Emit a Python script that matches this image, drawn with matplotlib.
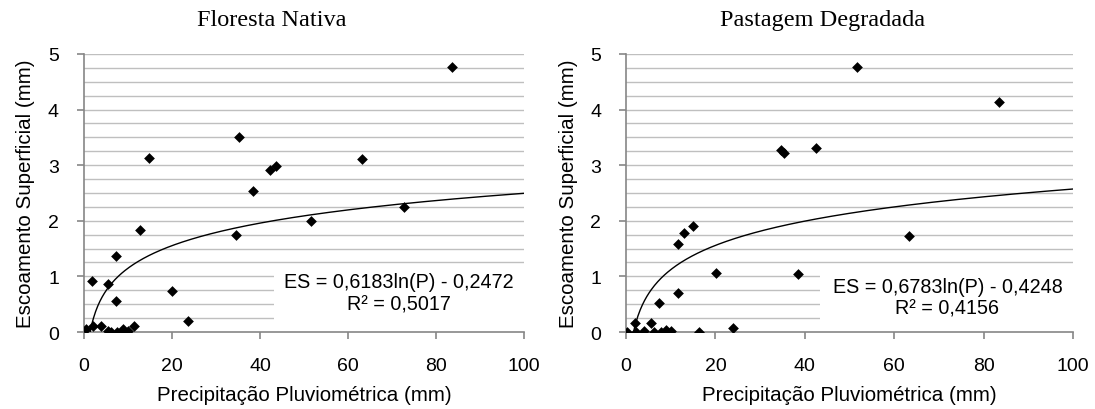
import numpy as np
import matplotlib
matplotlib.use("Agg")
import matplotlib.pyplot as plt

# Floresta Nativa
p_floresta = [0.5, 1.8, 2.0, 3.8, 5.4, 5.4, 6.1, 7.3, 7.3, 7.6, 8.8, 10.1, 11.4, 12.7, 14.7,
              20.0, 23.7, 34.5, 35.2, 38.4, 42.3, 43.6, 51.5, 63.1, 72.7, 83.6]
es_floresta = [0.06, 0.92, 0.11, 0.11, 0.86, 0.02, 0.0, 1.36, 0.55, 0.0, 0.05, 0.01, 0.11, 1.84, 3.12,
               0.74, 0.19, 1.75, 3.51, 2.54, 2.91, 2.99, 1.99, 3.11, 2.25, 4.77]
curva_floresta = (0.585, -0.20)   # curva como aparece desenhada
eq_floresta = ["ES = 0,6183ln(P) - 0,2472", "R² = 0,5017"]

# Pastagem Degradada
p_pastagem = [0.3, 1.9, 2.2, 4.0, 5.7, 6.3, 7.4, 7.8, 8.9, 10.1, 11.6, 11.6, 12.9, 14.9, 16.4,
              20.1, 23.9, 34.6, 35.3, 38.5, 42.4, 51.6, 63.2, 83.5]
es_pastagem = [0.0, 0.17, 0.0, 0.01, 0.16, 0.0, 0.52, 0.0, 0.04, 0.01, 1.58, 0.70, 1.78, 1.91, 0.0,
               1.06, 0.07, 3.28, 3.21, 1.04, 3.31, 4.76, 1.73, 4.13]
curva_pastagem = (0.63, -0.33)
eq_pastagem = ["ES = 0,6783ln(P) - 0,4248", "R² = 0,4156"]

fig = plt.figure(figsize=(10.95, 4.10), dpi=100)
plt.rcParams['font.family'] = ['Liberation Sans', 'DejaVu Sans']

paineis = [
    ("Floresta Nativa", p_floresta, es_floresta, curva_floresta, eq_floresta,
     [0.0767, 0.1878, 0.4018, 0.6782], 272 / 1095, (0.716, 0.183, 0.10)),
    ("Pastagem Degradada", p_pastagem, es_pastagem, curva_pastagem, eq_pastagem,
     [0.5717, 0.1878, 0.4083, 0.6782], 823 / 1095, (0.719, 0.165, 0.086)),
]

for titulo, px, py, (a, b), eq, pos, xt, (xe, y1, y2) in paineis:
    ax = fig.add_axes(pos)
    ax.set_xlim(0, 100)
    ax.set_ylim(0, 5)
    # linhas de grade a cada 0,25
    for g in np.arange(0.25, 5.01, 0.25):
        ax.axhline(g, color="#bfbfbf", lw=1.0, zorder=0)
    # caixa branca da equação (esconde a grade)
    ax.fill_between([43.3, 100], 0.05, 1.12, color="white", zorder=1, lw=0)
    x = np.linspace(np.exp(-b / a), 100, 400)
    ax.plot(x, a * np.log(x) + b, color="black", lw=1.0, zorder=3)
    ax.scatter(px, py, marker="D", s=30, color="black", zorder=4, lw=0)
    ax.text(xe, y1, eq[0], transform=ax.transAxes, ha="center", va="center", fontsize=14.2, zorder=5)
    ax.text(xe, y2, eq[1], transform=ax.transAxes, ha="center", va="center", fontsize=14.2, zorder=5)

    for lado in ("top", "right"):
        ax.spines[lado].set_visible(False)
    for lado in ("left", "bottom"):
        ax.spines[lado].set_color("#868686")
        ax.spines[lado].set_linewidth(1.2)
    ax.set_xticks([0, 20, 40, 60, 80, 100])
    ax.set_yticks([0, 1, 2, 3, 4, 5])
    ax.tick_params(axis="both", colors="#868686", labelcolor="black", labelsize=14,
                   length=5, width=1.2, direction="out")
    ax.tick_params(axis="x", pad=13)
    ax.tick_params(axis="y", pad=13)
    ax.set_xlabel("Precipitação Pluviométrica (mm)", fontsize=14.8, labelpad=8)
    ax.set_ylabel("Escoamento Superficial (mm)", fontsize=14.8, labelpad=9)
    fig.text(xt, 0.951, titulo, family="Liberation Serif", fontsize=17.5, ha="center", va="center")

fig.savefig("out.png", dpi=100)
